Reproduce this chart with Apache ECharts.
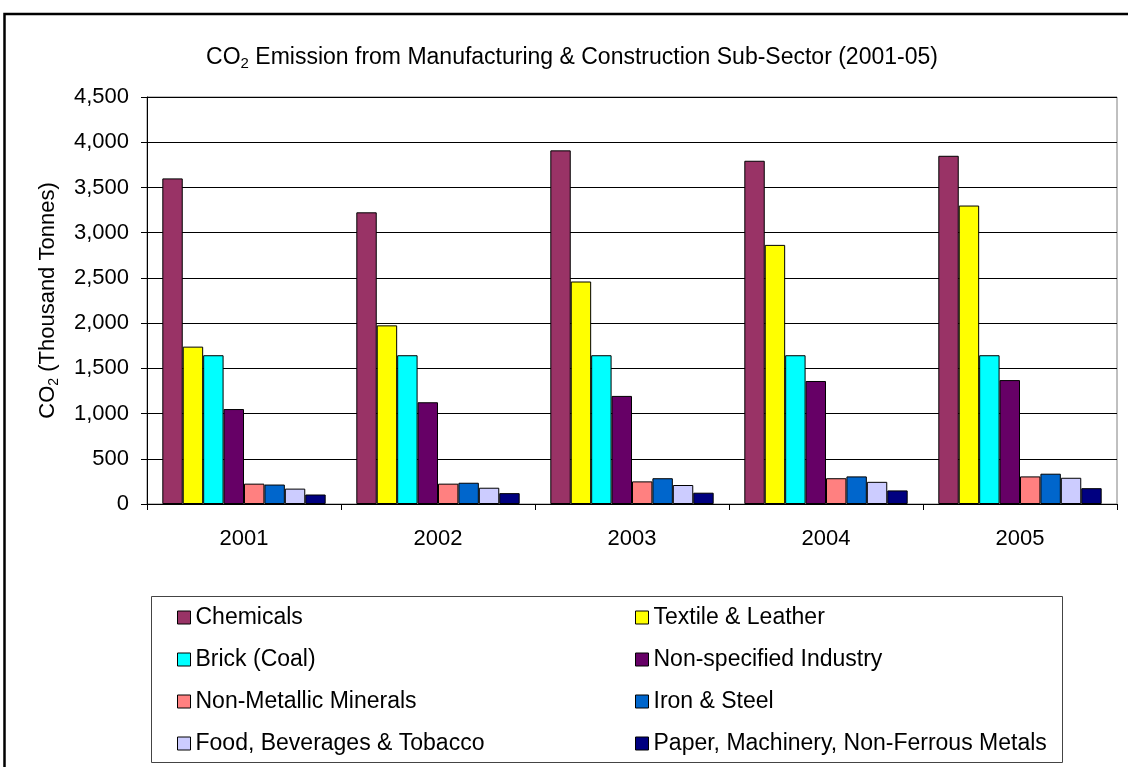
<!DOCTYPE html>
<html>
<head>
<meta charset="utf-8">
<style>
  html, body { margin: 0; padding: 0; background: #fff; }
  #chart { width: 1128px; height: 767px; }
</style>
<script src="https://cdn.jsdelivr.net/npm/echarts@6/dist/echarts.min.js"></script>
</head>
<body>
<div id="chart"></div>
<script>
// Years on the category axis
var years = ['2001', '2002', '2003', '2004', '2005'];

// CO2 emissions per sub-sector, thousand tonnes
var chemicals      = [3600, 3225, 3910, 3795, 3850];
var textile        = [1740, 1975, 2460, 2865, 3300];
var brick          = [1645, 1645, 1645, 1645, 1645];
var nonSpecified   = [1050, 1125, 1195, 1360, 1370];
var nonMetallic    = [225, 225, 250, 285, 305];
var ironSteel      = [215, 235, 285, 305, 335];
var foodBeverages  = [170, 180, 210, 245, 290];
var paperMachinery = [105, 120, 125, 150, 175];

var sectorNames = [
  'Chemicals', 'Textile & Leather', 'Brick (Coal)', 'Non-specified Industry',
  'Non-Metallic Minerals', 'Iron & Steel', 'Food, Beverages & Tobacco',
  'Paper, Machinery, Non-Ferrous Metals'
];
var sectorValues = [chemicals, textile, brick, nonSpecified, nonMetallic, ironSteel, foodBeverages, paperMachinery];
var sectorColors = ['#993366', '#FFFF00', '#00FFFF', '#660066', '#FF8080', '#0066CC', '#CCCCFF', '#000080'];

// Y-axis ticks
var yMin = 0, yMax = 4500, yStep = 500;

var FONT = '"Liberation Sans", Arial, sans-serif';
var FS = 22;

var series = sectorNames.map(function (name, i) {
  return {
    name: name,
    type: 'bar',
    data: sectorValues[i],
    barGap: '0%',
    barCategoryGap: '15.8%',
    itemStyle: { color: sectorColors[i], borderColor: '#000', borderWidth: 1 }
  };
});

var legendBase = {
  orient: 'vertical',
  icon: 'rect',
  padding: 0,
  itemWidth: 13,
  itemHeight: 13,
  itemGap: 19,
  top: 606,
  itemStyle: { borderColor: '#000', borderWidth: 1 },
  textStyle: { fontFamily: FONT, fontSize: 23, color: '#000', lineHeight: 23 },
  selectedMode: false
};

var chart = echarts.init(document.getElementById('chart'), null, { renderer: 'canvas' });
chart.setOption({
  animation: false,
  backgroundColor: '#fff',
  textStyle: { fontFamily: FONT },
  grid: {
    left: 147, right: 11, top: 97, bottom: 263,
    show: true, borderColor: '#808080', borderWidth: 1, backgroundColor: 'transparent'
  },
  graphic: [
    {
      type: 'rect', silent: true,
      shape: { x: 4.5, y: 14, width: 1300, height: 900 },
      style: { fill: 'none', stroke: '#000', lineWidth: 2.5 }
    },
    {
      type: 'rect', silent: true,
      shape: { x: 151.5, y: 596.5, width: 911, height: 166 },
      style: { fill: 'none', stroke: '#444', lineWidth: 1 }
    },
    {
      type: 'text', silent: true,
      x: 572, y: 58,
      style: {
        text: '{a|CO}{s|2}{a| Emission from Manufacturing & Construction Sub-Sector (2001-05)}',
        align: 'center', verticalAlign: 'middle',
        rich: {
          a: { fontFamily: FONT, fontSize: 23, fill: '#000', lineHeight: 26 },
          s: { fontFamily: FONT, fontSize: 15, fill: '#000', lineHeight: 26, padding: [12, 0, 0, 0] }
        }
      }
    }
  ],
  legend: [
    Object.assign({}, legendBase, {
      left: 177,
      data: [sectorNames[0], sectorNames[2], sectorNames[4], sectorNames[6]]
    }),
    Object.assign({}, legendBase, {
      left: 635,
      data: [sectorNames[1], sectorNames[3], sectorNames[5], sectorNames[7]]
    })
  ],
  xAxis: {
    type: 'category',
    data: years,
    axisLine: { lineStyle: { color: '#000', width: 1 } },
    axisTick: { show: true, length: 6, lineStyle: { color: '#000' } },
    axisLabel: { color: '#000', fontFamily: FONT, fontSize: FS, margin: 24 },
    splitLine: { show: false }
  },
  yAxis: {
    type: 'value',
    min: yMin, max: yMax, interval: yStep,
    name: '{a|CO}{s|2}{a| (Thousand Tonnes)}',
    nameLocation: 'middle',
    nameGap: 86,
    nameRotate: 90,
    nameTextStyle: {
      rich: {
        a: { fontFamily: FONT, fontSize: FS, color: '#000', lineHeight: 26 },
        s: { fontFamily: FONT, fontSize: 14, color: '#000', lineHeight: 26, padding: [12, 0, 0, 0] }
      }
    },
    axisLine: { show: true, lineStyle: { color: '#000', width: 1 } },
    axisTick: { show: true, length: 6, lineStyle: { color: '#000' } },
    axisLabel: {
      color: '#000', fontFamily: FONT, fontSize: FS, margin: 18,
      formatter: function (v) { return v.toLocaleString('en-US'); }
    },
    splitLine: { show: true, lineStyle: { color: '#000', width: 1 } }
  },
  series: series
});
</script>
</body>
</html>
